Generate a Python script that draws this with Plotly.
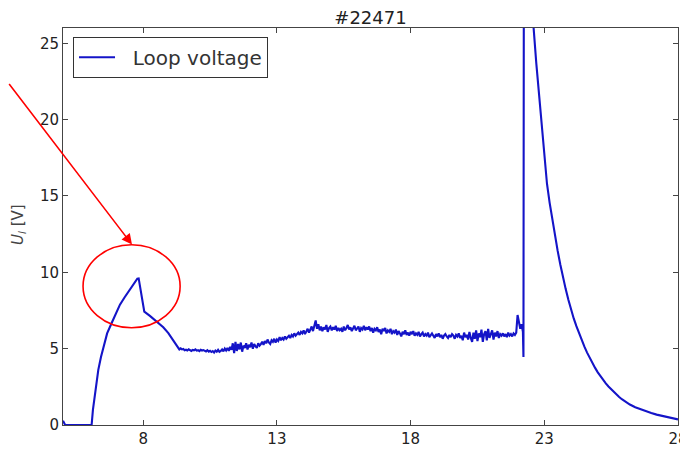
import numpy as np
import plotly.graph_objects as go

# ---- data ----
t_rise = [5.0, 5.03, 5.08, 5.15, 6.07, 6.12, 6.2, 6.32, 6.42, 6.51, 6.65, 6.82, 6.97,
          7.13, 7.3, 7.45, 7.62, 7.78, 7.83, 7.92, 8.0, 8.04, 8.25, 8.51, 8.75, 8.94,
          9.1, 9.26, 9.35]
u_rise = [0.28, 0.2, 0.0, 0.0, 0.0, 1.0, 2.08, 3.61, 4.45, 5.14, 6.0, 6.68, 7.32,
          7.88, 8.35, 8.75, 9.2, 9.58, 9.6, 8.6, 7.6, 7.42, 7.15, 6.78, 6.4, 6.02,
          5.6, 5.14, 4.95]

t_noise_start = 9.4
t_noise_step = 0.05
u_noise = [
    5.02, 4.95, 4.98, 4.90, 4.93, 4.88, 4.96, 4.91, 4.85, 4.92, 4.89, 4.95, 4.87, 4.90, 4.84, 4.93, 4.88, 4.91, 4.86, 4.82,
    4.90, 4.80, 4.86, 4.78, 4.84, 4.75, 4.88, 4.80, 4.92, 4.79, 4.85, 4.95, 4.82, 5.00, 4.88, 5.05, 4.85, 5.12, 4.92, 5.35,
    4.70, 5.45, 4.85, 5.30, 4.95, 5.40, 4.80, 5.20, 5.05, 5.35, 4.95, 5.25, 5.10, 5.40, 5.00, 5.30, 5.15, 5.05, 5.35, 5.20,
    5.30, 5.45, 5.25, 5.50, 5.35, 5.60, 5.40, 5.30, 5.55, 5.45, 5.65, 5.40, 5.60, 5.50, 5.75, 5.55, 5.70, 5.60, 5.80, 5.65,
    5.75, 5.85, 5.70, 5.90, 5.80, 6.00, 5.85, 5.95, 6.05, 5.90, 6.10, 6.00, 6.20, 5.95, 6.15, 6.30, 6.05, 6.25, 6.45, 6.15,
    6.50, 6.85, 6.30, 6.60, 6.20, 6.45, 6.15, 6.40, 6.25, 6.55, 6.10, 6.35, 6.45, 6.20, 6.40, 6.25, 6.50, 6.15, 6.35, 6.20,
    6.30, 6.10, 6.45, 6.20, 6.35, 6.55, 6.25, 6.40, 6.15, 6.35, 6.50, 6.20, 6.30, 6.45, 6.10, 6.35, 6.25, 6.50, 6.20, 6.40,
    6.25, 6.45, 6.15, 6.35, 6.05, 6.30, 6.20, 6.40, 6.10, 6.25, 5.95, 6.30, 6.15, 6.35, 6.00, 6.20, 6.10, 6.30, 5.95, 6.15,
    6.05, 6.25, 5.90, 6.15, 6.00, 5.80, 6.10, 5.95, 6.20, 5.90, 6.05, 5.85, 6.10, 5.95, 6.15, 5.85, 6.00, 5.90, 6.10, 5.80,
    5.95, 6.05, 5.80, 5.95, 5.85, 6.05, 5.75, 5.90, 6.00, 5.85, 5.70, 5.95, 5.80, 6.00, 5.75, 5.90, 5.65, 5.85, 5.95, 5.80,
    5.70, 5.90, 5.75, 5.95, 5.85, 5.65, 5.90, 5.80, 6.00, 5.70, 5.85, 5.55, 6.05, 5.75, 5.90, 5.60, 6.10, 5.70, 5.45, 6.05,
    5.65, 6.20, 5.50, 6.00, 5.75, 6.25, 5.45, 5.95, 6.15, 5.55, 6.30, 5.70, 5.90, 6.20, 5.60, 6.05, 5.80, 6.15, 5.70, 5.95,
    5.85, 6.00, 5.80, 5.95, 5.75, 6.05, 5.85, 5.95, 5.80, 6.00, 5.90, 6.05, 7.20, 6.80, 6.30, 6.60,
]

t_quench = [22.20, 22.22, 22.225, 22.23, 22.24, 22.4, 22.5, 22.6, 22.7, 22.8, 22.9, 23.0,
            23.1, 23.2, 23.3, 23.4, 23.5, 23.6, 23.7, 23.8, 23.9, 24.0, 24.1, 24.2,
            24.3, 24.4, 24.5, 24.6, 24.7, 24.8, 24.9, 25.0, 25.1, 25.2, 25.3, 25.4,
            25.5, 25.6, 25.7, 25.8, 25.9, 26.0, 26.2, 26.4, 26.6, 26.8, 27.0, 27.2,
            27.4, 27.6, 27.8, 28.0]
u_quench = [6.1, 4.45, 14.8, 13.2, 38.0, 31.5, 28.5, 26.0, 23.7, 21.6, 19.5, 17.5,
            15.8, 14.55, 13.4, 12.35, 11.4, 10.5, 9.65, 8.9, 8.2, 7.55, 6.98, 6.47,
            6.0, 5.55, 5.13, 4.74, 4.38, 4.05, 3.74, 3.45, 3.19, 2.95, 2.73, 2.52,
            2.33, 2.15, 1.99, 1.83, 1.69, 1.56, 1.34, 1.16, 1.02, 0.9, 0.79, 0.68,
            0.6, 0.52, 0.44, 0.37]

x_ticks = [8, 13, 18, 23, 28]
y_ticks = [0, 5, 10, 15, 20, 25]
title_text = "#22471"
series_name = "\u00a0\u00a0Loop voltage"

# ---- build series ----
t_noise = t_noise_start + t_noise_step * np.arange(len(u_noise))
t_all = np.concatenate([t_rise, t_noise, t_quench])
u_all = np.concatenate([u_rise, u_noise, u_quench])

fig = go.Figure()
fig.add_trace(go.Scatter(x=t_all, y=u_all, mode="lines", name=series_name,
                         line=dict(color="rgb(20,20,200)", width=2.1)))

axis_common = dict(showgrid=False, zeroline=False, showline=True, linecolor="#444",
                   linewidth=1, mirror="ticks", ticks="inside", ticklen=5,
                   tickcolor="#444", automargin=False,
                   tickfont=dict(family="DejaVu Sans", size=15, color="#222"))

fig.update_xaxes(range=[5, 28], tickvals=x_ticks, **axis_common)
fig.update_yaxes(range=[0, 26], tickvals=y_ticks, **axis_common)

# the page body adds an 8px offset, so the figure is 8px smaller and margins shifted
fig.update_layout(
    width=680, height=442,
    margin=dict(l=55, r=10, t=20, b=25, autoexpand=False),
    paper_bgcolor="white", plot_bgcolor="white",
    title=dict(text=title_text, x=0.5, xref="paper", xanchor="center",
               y=1 - 10 / 442, yref="container", yanchor="middle",
               font=dict(family="DejaVu Sans", size=18, color="#222")),
    legend=dict(x=0.0163, y=0.978, xanchor="left", yanchor="top",
                bordercolor="#333", borderwidth=1, bgcolor="white",
                itemwidth=36,
                font=dict(family="DejaVu Sans", size=20, color="#333")),
    showlegend=True,
)

# y axis label
fig.add_annotation(text="<i>U</i><sub><i>l</i></sub> [V]", xref="paper", yref="paper",
                   x=-0.0715, y=0.504, textangle=-90, showarrow=False,
                   xanchor="center", yanchor="middle",
                   font=dict(family="DejaVu Sans", size=15, color="#444"))

# red arrow pointing at the peak
fig.add_annotation(x=7.58, y=11.82, xref="x", yref="y", ax=-132, ay=-162,
                   text="", showarrow=True, arrowhead=2, arrowsize=1.3,
                   arrowwidth=1.6, arrowcolor="red", standoff=0)

# red circle around the peak
fig.add_shape(type="circle", xref="x", yref="y", x0=5.75, x1=9.38, y0=6.37, y1=11.8,
              line=dict(color="red", width=1.6))

fig.write_html("out.html")
